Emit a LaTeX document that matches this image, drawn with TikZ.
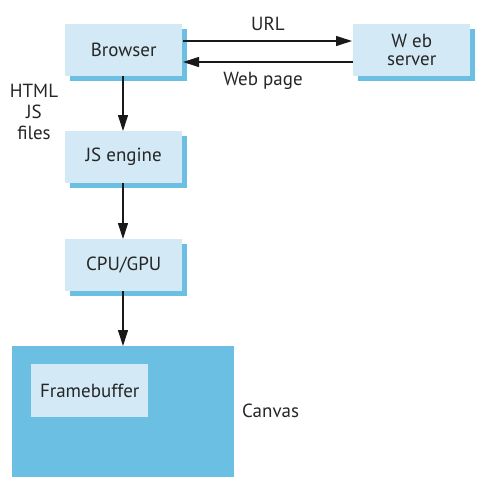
\documentclass[tikz,border=0pt]{standalone}
\usepackage{fontspec}
\setmainfont{PT Sans}
\usetikzlibrary{arrows.meta}
\definecolor{boxlight}{HTML}{D3E9F5}
\definecolor{boxdark}{HTML}{6BBFE3}
\tikzset{
  x=1pt,y=-1pt,
  lbl/.style={font=\fontsize{19}{21}\selectfont, text=black!85, inner sep=0pt},
  boxnode/.style={fill=boxlight, minimum width=117pt, minimum height=52pt, inner sep=0pt, anchor=north west,
     font=\fontsize{19}{19}\selectfont, text=black!85, align=center},
  shadow/.style={fill=boxdark},
  arr/.style={-{Triangle[length=16pt,width=10pt]}, line width=1.1pt, black!90}
}
\begin{document}
\begin{tikzpicture}
\useasboundingbox (0,0) rectangle (482,491);
% shadows
\foreach \x/\y in {65/24, 353/24, 65/131, 65/239}{
  \fill[shadow] (\x+5,\y+5) rectangle (\x+122,\y+57);
}
\node[boxnode] (browser) at (65,24) {Browser};
\node[boxnode] (server) at (353,24) {W eb\\[-1pt]server};
\node[boxnode] (js) at (65,131) {JS engine};
\node[boxnode] (cpu) at (65,239) {CPU/GPU};
\node[fill=boxdark, minimum width=222pt, minimum height=131pt, inner sep=0pt, anchor=north west] (canvas) at (12,346) {};
\node[boxnode, minimum height=53pt] (fb) at (31,364) {Framebuffer};
\node[lbl, anchor=west] (canvaslbl) at (242,411) {Canvas};
\node[lbl] (url) at (268,24) {URL};
\node[lbl] (webpage) at (263,81) {Web page};
\node[lbl, align=center] (html) at (34,112) {HTML\\[0pt]JS\\[0pt]files};
\coordinate (b1) at (183,41);
\coordinate (s1) at (352,41);
\coordinate (s2) at (353,62);
\coordinate (b2) at (183,62);
\coordinate (bs) at (123,76);
\coordinate (jn) at (123,131);
\coordinate (js2) at (123,183);
\coordinate (cn) at (123,239);
\coordinate (cs) at (123,291);
\coordinate (vn) at (123,346);
\draw[arr] (b1) -- (s1);
\draw[arr] (s2) -- (b2);
\draw[arr] (bs) -- (jn);
\draw[arr] (js2) -- (cn);
\draw[arr] (cs) -- (vn);
\end{tikzpicture}
\end{document}
